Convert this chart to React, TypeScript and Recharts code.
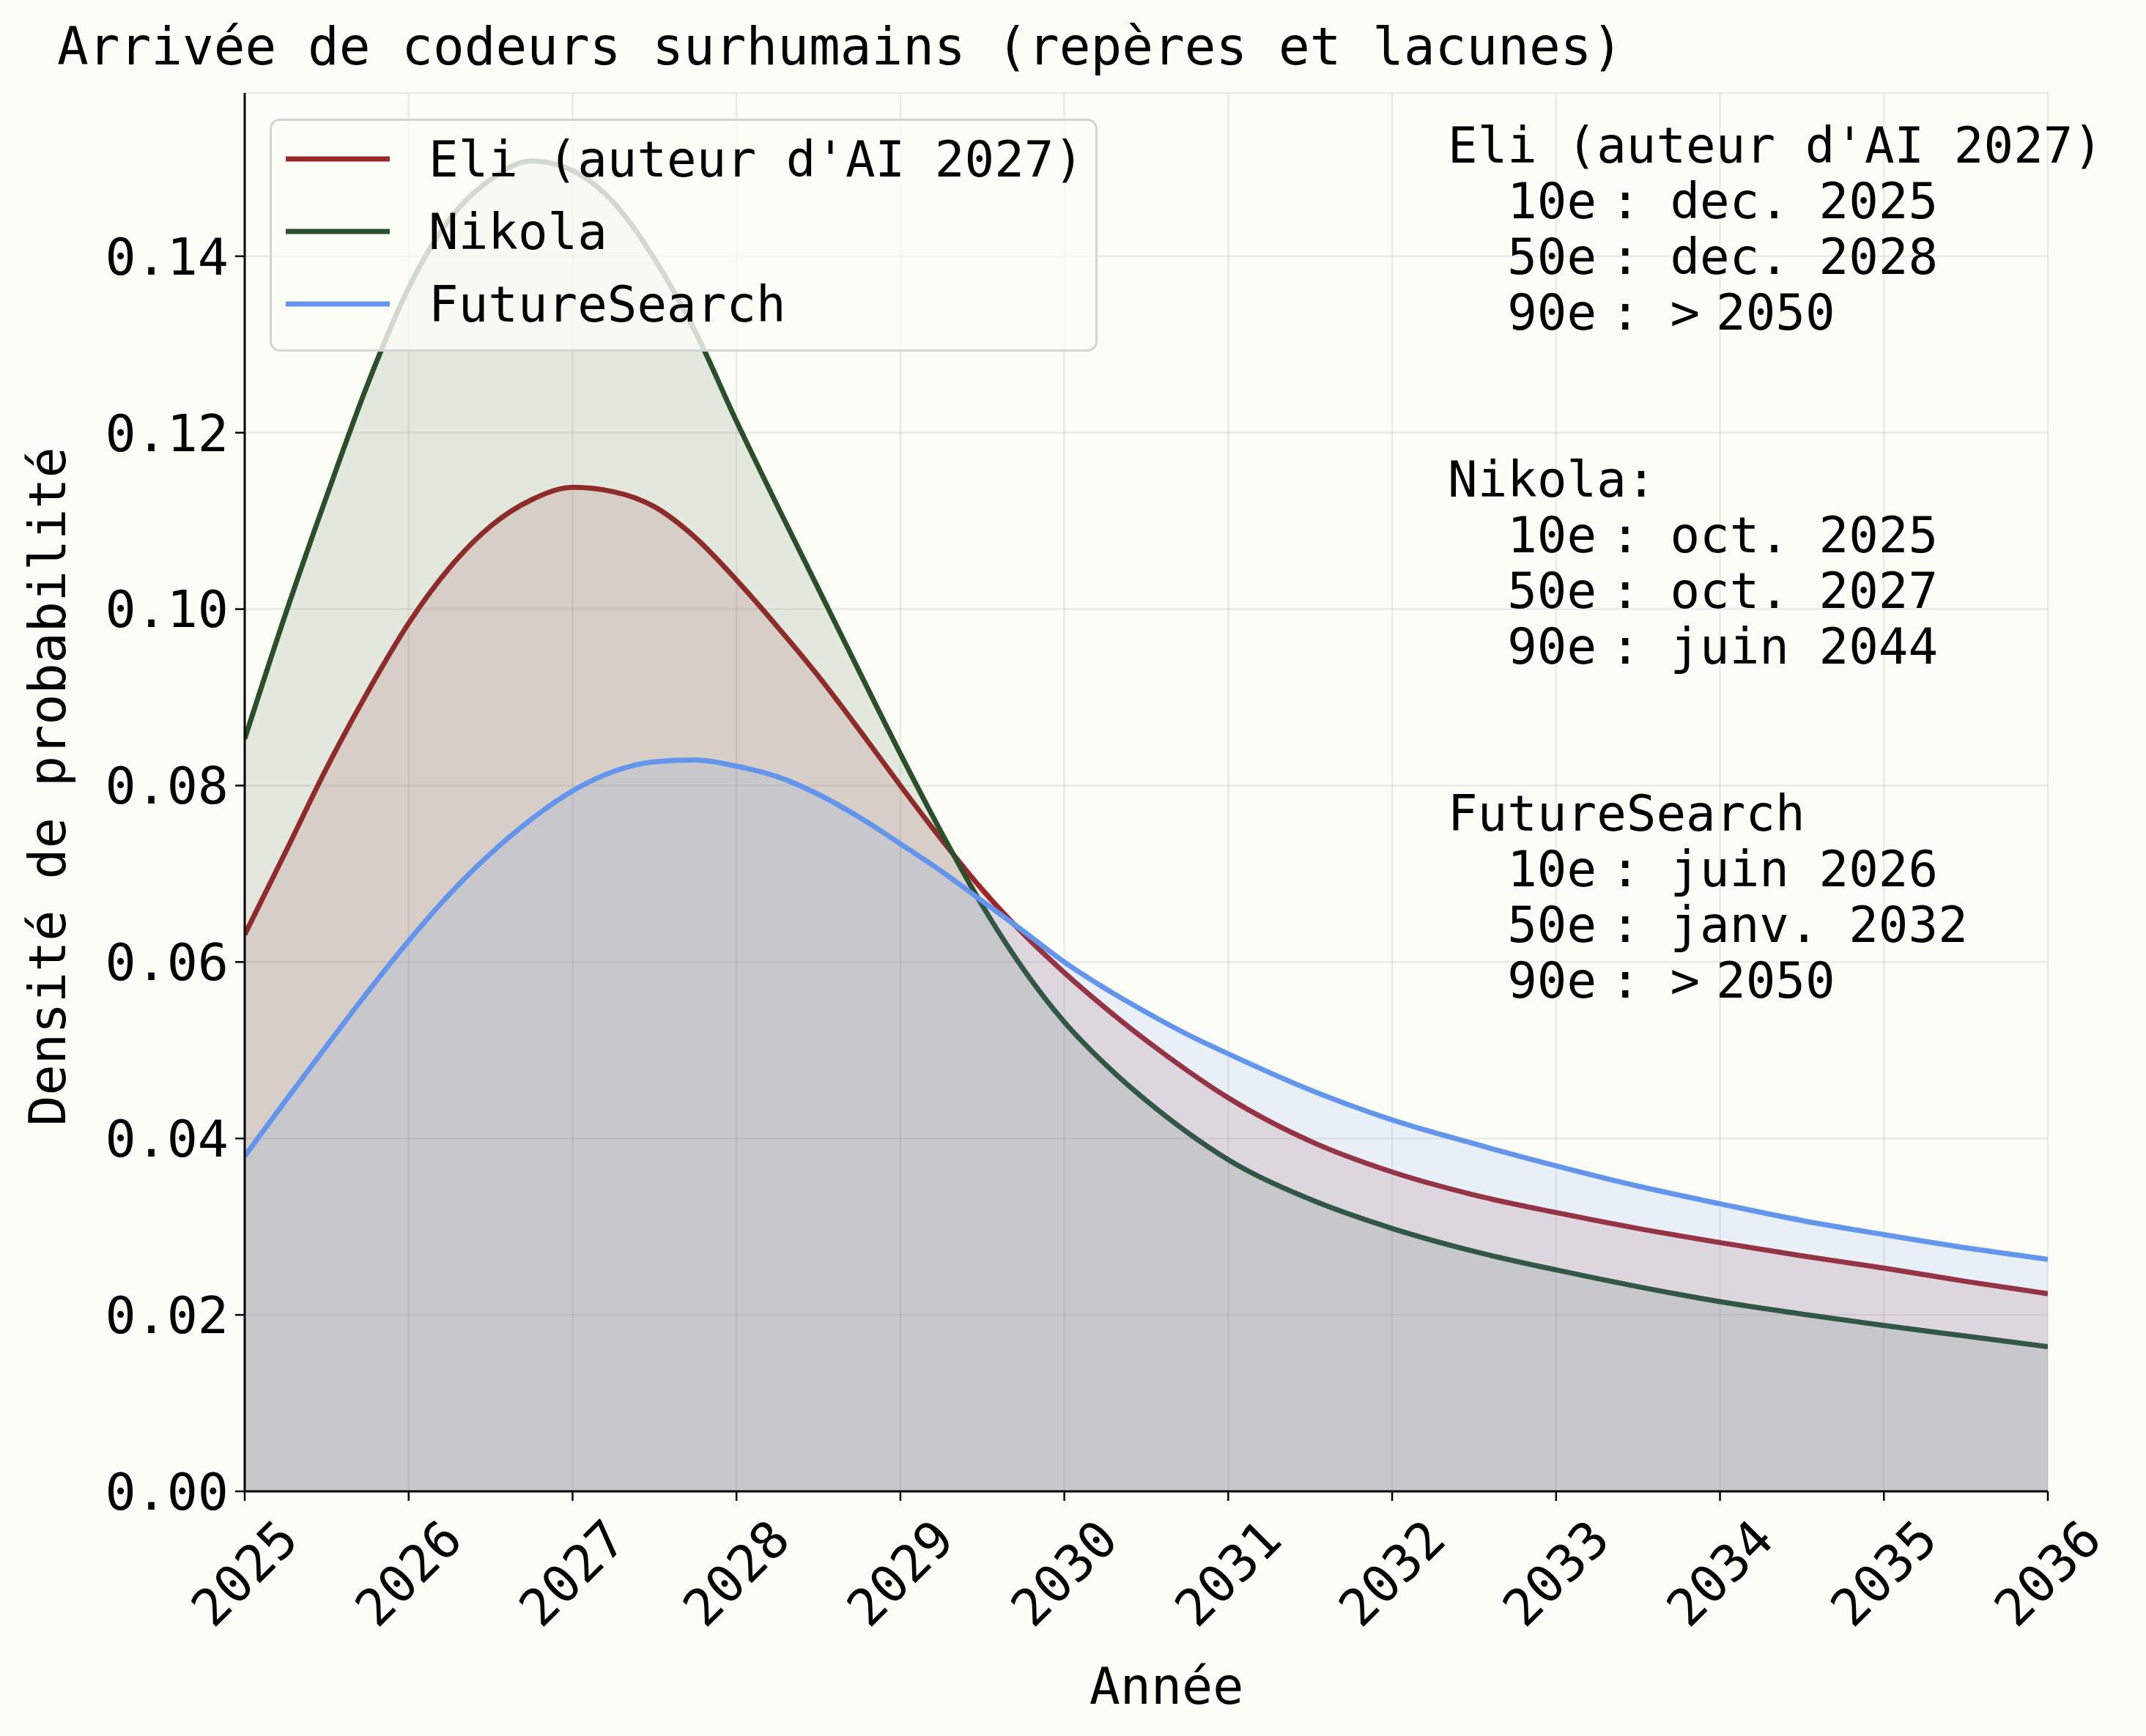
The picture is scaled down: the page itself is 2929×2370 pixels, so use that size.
import { Area, CartesianGrid, ComposedChart, Customized, Legend, XAxis, YAxis } from 'recharts'

const FONT = '"DejaVu Sans Mono", monospace'

const years = [
  2025, 2025.25, 2025.5, 2025.75, 2026, 2026.25, 2026.5, 2026.75, 2027, 2027.25, 2027.5, 2027.75,
  2028, 2028.25, 2028.5, 2028.75, 2029, 2029.25, 2029.5, 2029.75, 2030, 2030.25, 2030.5, 2030.75,
  2031, 2031.5, 2032, 2032.5, 2033, 2033.5, 2034, 2034.5, 2035, 2035.5, 2036,
]

const eli = [
  0.0631, 0.0725, 0.082, 0.0906, 0.0984, 0.1047, 0.1094, 0.1124, 0.1138, 0.1133, 0.1116, 0.1081,
  0.1033, 0.098, 0.0924, 0.0863, 0.08, 0.0739, 0.0682, 0.0632, 0.0588, 0.0548, 0.0511, 0.0477,
  0.0446, 0.0397, 0.0362, 0.0336, 0.0316, 0.0298, 0.0282, 0.0267, 0.0253, 0.0238, 0.0224,
]

const nikola = [
  0.0853, 0.0995, 0.1128, 0.1255, 0.1364, 0.1442, 0.1487, 0.1508, 0.1497, 0.1461, 0.1397, 0.1314,
  0.1213, 0.1117, 0.1023, 0.0929, 0.0836, 0.0747, 0.0664, 0.0592, 0.0532, 0.0484, 0.0443, 0.0407,
  0.0376, 0.0331, 0.0298, 0.0272, 0.0251, 0.0232, 0.0215, 0.0201, 0.0188, 0.0176, 0.0164,
]

const futureSearch = [
  0.038, 0.0443, 0.0505, 0.0566, 0.0624, 0.0677, 0.0723, 0.0762, 0.0794, 0.0816, 0.0827, 0.0829,
  0.0822, 0.081, 0.079, 0.0764, 0.0734, 0.0703, 0.0669, 0.0635, 0.06, 0.057, 0.0543, 0.0518,
  0.0496, 0.0455, 0.0421, 0.0394, 0.0369, 0.0346, 0.0326, 0.0307, 0.0291, 0.0276, 0.0263,
]

const xTicks = [2025, 2026, 2027, 2028, 2029, 2030, 2031, 2032, 2033, 2034, 2035, 2036]
const yTicks = [0, 0.02, 0.04, 0.06, 0.08, 0.1, 0.12, 0.14]

const seriesNames = ["Eli (auteur d'AI 2027)", 'Nikola', 'FutureSearch']
const seriesColors = ['#9c272b', '#2b4f2d', '#6495ed']

const noteTitles = ["Eli (auteur d'AI 2027)", 'Nikola:', 'FutureSearch']
const percentiles = ['10e', '50e', '90e']
const noteValues = [
  ['dec. 2025', 'dec. 2028', '> 2050'],
  ['oct. 2025', 'oct. 2027', 'juin 2044'],
  ['juin 2026', 'janv. 2032', '> 2050'],
]

const data = years.map((year, i) => ({
  year,
  eli: eli[i],
  nikola: nikola[i],
  fs: futureSearch[i],
}))

function XTick({ x, payload }: any) {
  const cy = 2148
  return (
    <text
      x={x}
      y={cy}
      textAnchor="middle"
      dominantBaseline="central"
      transform={`rotate(-45 ${x} ${cy})`}
      fontFamily={FONT}
      fontSize={70}
      fill="#000"
    >
      {payload.value}
    </text>
  )
}

function NoteValue({ value }: { value: string }) {
  // a narrow gap sits between ">" and the year, as in the source figure
  if (value.startsWith('> ')) {
    return (
      <>
        <tspan>: &gt;</tspan>
        <tspan dx={22}>{value.slice(2)}</tspan>
      </>
    )
  }
  return <tspan>{`: ${value}`}</tspan>
}

function Texts() {
  const noteX = 1976
  const noteY = 222
  const lineH = 76
  const cell = 40.6
  return (
    <g fontFamily={FONT} fill="#000">
      <text x={78} y={88} fontSize={71}>
        Arrivée de codeurs surhumains (repères et lacunes)
      </text>
      <text
        x={65}
        y={1074}
        fontSize={70}
        textAnchor="middle"
        dominantBaseline="central"
        transform="rotate(-90 65 1074)"
      >
        Densité de probabilité
      </text>
      <text x={1592} y={2326} fontSize={70} textAnchor="middle">
        Année
      </text>
      {noteTitles.map((title, b) => {
        const top = noteY + b * 6 * lineH
        return (
          <text key={title} fontSize={67.5} style={{ whiteSpace: 'pre' }}>
            <tspan x={noteX} y={top}>
              {title}
            </tspan>
            {percentiles.map((p, r) => (
              <tspan key={p}>
                <tspan x={noteX + 2 * cell} y={top + (r + 1) * lineH}>
                  {p}
                </tspan>
                <tspan dx={19}>
                  <NoteValue value={noteValues[b][r]} />
                </tspan>
              </tspan>
            ))}
          </text>
        )
      })}
    </g>
  )
}

function LegendBox() {
  return (
    <div
      style={{
        width: 1130,
        height: 318,
        boxSizing: 'border-box',
        border: '3px solid #d3d3d3',
        borderRadius: 14,
        background: 'rgba(253,253,247,0.8)',
        fontFamily: FONT,
        fontSize: 67.5,
        position: 'relative',
      }}
    >
      {seriesNames.map((name, i) => (
        <div
          key={name}
          style={{
            position: 'absolute',
            left: 19,
            top: 55 + i * 99 - 45 - 3,
            height: 90,
            display: 'flex',
            alignItems: 'center',
            whiteSpace: 'pre',
          }}
        >
          <svg width={142} height={10} style={{ marginRight: 53 }}>
            <line x1={0} y1={5} x2={142} y2={5} stroke={seriesColors[i]} strokeWidth={7} />
          </svg>
          <span>{name}</span>
        </div>
      ))}
    </div>
  )
}

export default function App() {
  return (
    <div style={{ width: 2929, height: 2370, background: '#fdfdf7' }}>
      <style>{`body{margin:0;background:#fdfdf7}`}</style>
      <ComposedChart
        width={2929}
        height={2370}
        data={data}
        margin={{ top: 127, right: 134, left: 184, bottom: 134 }}
      >
        <CartesianGrid stroke="#000" strokeOpacity={0.07} strokeWidth={2.5} />
        <XAxis
          dataKey="year"
          type="number"
          domain={[2025, 2036]}
          ticks={xTicks}
          allowDataOverflow
          height={200}
          tick={<XTick />}
          tickSize={13}
          tickLine={{ stroke: '#000', strokeWidth: 2.5 }}
          axisLine={{ stroke: '#000', strokeWidth: 3 }}
        />
        <YAxis
          type="number"
          domain={[0, 0.1585]}
          ticks={yTicks}
          allowDataOverflow
          width={150}
          tickFormatter={(v: number) => v.toFixed(2)}
          tick={{ fontSize: 70, fill: '#000', fontFamily: FONT }}
          tickSize={13}
          tickMargin={9}
          tickLine={{ stroke: '#000', strokeWidth: 2.5 }}
          axisLine={{ stroke: '#000', strokeWidth: 3 }}
        />
        <Area
          type="monotone"
          dataKey="eli"
          stroke={seriesColors[0]}
          strokeWidth={7}
          fill={seriesColors[0]}
          fillOpacity={0.13}
          dot={false}
          activeDot={false}
          isAnimationActive={false}
        />
        <Area
          type="monotone"
          dataKey="nikola"
          stroke={seriesColors[1]}
          strokeWidth={7}
          fill={seriesColors[1]}
          fillOpacity={0.12}
          dot={false}
          activeDot={false}
          isAnimationActive={false}
        />
        <Area
          type="monotone"
          dataKey="fs"
          stroke={seriesColors[2]}
          strokeWidth={7}
          fill={seriesColors[2]}
          fillOpacity={0.13}
          dot={false}
          activeDot={false}
          isAnimationActive={false}
        />
        <Customized component={Texts} />
        <Legend
          layout="vertical"
          align="center"
          verticalAlign="middle"
          wrapperStyle={{ top: 162, left: 368, width: 1130, height: 318 }}
          content={() => <LegendBox />}
        />
      </ComposedChart>
    </div>
  )
}
